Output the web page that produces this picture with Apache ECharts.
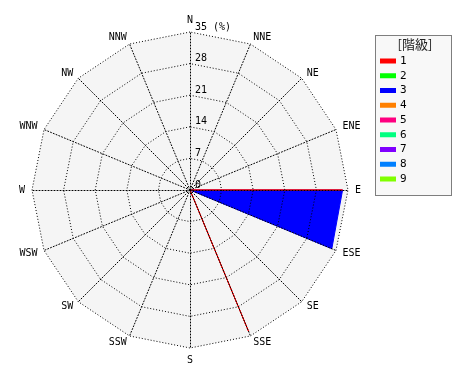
<!DOCTYPE html>
<html><head><meta charset="utf-8">
<script src="https://cdn.jsdelivr.net/npm/echarts@6/dist/echarts.min.js"></script>
<style>html,body{margin:0;padding:0;background:#fff}#c{width:470px;height:380px}</style>
</head><body><div id="c"></div>
<script>
const directions = ['N','NNE','NE','ENE','E','ESE','SE','SSE','S','SSW','SW','WSW','W','WNW','NW','NNW'];
const classNames = ['1','2','3','4','5','6','7','8','9'];
const classColors = ['#ff0000','#00ff00','#0000ff','#ff8000','#ff0080','#00ff80','#8000ff','#0080ff','#80ff00'];
// cumulative frequency (%) per direction, in direction order
const class1 = [0,0,0,0,33.8,0,0,34,0,0,0,0,0,0,0,0];
const class2 = [0,0,0,0,0,0,0,0,0,0,0,0,0,0,0,0];
const class3 = [0,0,0,0,33.8,34,0,0,0,0,0,0,0,0,0,0];
const class4 = [0,0,0,0,0,0,0,0,0,0,0,0,0,0,0,0];
const class5 = [0,0,0,0,0,0,0,0,0,0,0,0,0,0,0,0];
const class6 = [0,0,0,0,0,0,0,0,0,0,0,0,0,0,0,0];
const class7 = [0,0,0,0,0,0,0,0,0,0,0,0,0,0,0,0];
const class8 = [0,0,0,0,0,0,0,0,0,0,0,0,0,0,0,0];
const class9 = [0,0,0,0,0,0,0,0,0,0,0,0,0,0,0,0];
const radiusTicks = [0,7,14,21,28,35];
const maxValue = 35;
const classData = [class1,class2,class3,class4,class5,class6,class7,class8,class9];

const FONT = 'DejaVu Sans Mono';
const CENTER = [190,190];
const RADIUS = 158;
// radar places indicators counter-clockwise; reorder so compass runs clockwise
const order = [0].concat(Array.from({length:15},(_,i)=>15-i));
const indicator = order.map(i => ({name: directions[i], min:0, max:maxValue}));
const reorder = arr => order.map(i => arr[i]);
const dotted = {type:[1,2], color:'#000', width:1};

const series = [];
// draw highest class first so lower classes are on top
for (let k = classData.length - 1; k >= 0; k--) {
  series.push({
    type:'radar', radarIndex:0, name:classNames[k], z:1,
    symbol:'none', color:classColors[k],
    lineStyle:{color:classColors[k], width:1},
    areaStyle:{color:classColors[k], opacity:1},
    data:[{value:reorder(classData[k]), name:classNames[k]}],
    silent:true, animation:false
  });
}

const chart = echarts.init(document.getElementById('c'));
chart.setOption({
  animation:false,
  backgroundColor:'#fff',
  radar:[
    {center:CENTER, radius:RADIUS, shape:'polygon', splitNumber:5, indicator:indicator, z:0,
     axisName:{show:false}, axisLine:{show:false}, splitLine:{show:false},
     splitArea:{show:true, areaStyle:{color:['#f5f5f5']}}},
    {center:CENTER, radius:RADIUS, shape:'polygon', splitNumber:5, indicator:indicator, z:3,
     nameGap:7,
     axisName:{color:'#000', fontFamily:FONT, fontSize:10},
     axisLine:{show:true, lineStyle:dotted},
     splitLine:{show:true, lineStyle:dotted},
     splitArea:{show:false}}
  ],
  polar:{center:CENTER, radius:RADIUS},
  angleAxis:{show:false, startAngle:90, min:0, max:360},
  radiusAxis:{min:0, max:maxValue, interval:7, z:4,
    axisLine:{show:false}, axisTick:{show:false}, splitLine:{show:false},
    axisLabel:{show:true, color:'#000', fontFamily:FONT, fontSize:10, margin:-5, align:'left', verticalAlign:'bottom',
      formatter: v => (v === maxValue ? v + ' (%)' : String(v))}},
  legend:{orient:'vertical', left:375, top:50, itemWidth:16, itemHeight:5, itemGap:2.75, icon:'rect',
    data:classNames, selectedMode:false,
    textStyle:{fontFamily:FONT, fontSize:11, lineHeight:12, color:'#000', padding:[0,0,0,-1]}},
  graphic:[
    {type:'rect', shape:{x:375.5, y:35.5, width:76, height:160}, z:-1,
     style:{fill:'#f8f8f8', stroke:'#000', lineWidth:1, lineDash:[1,1]}},
    {type:'text', x:415, y:44, style:{text:'[階級]', font:'13px "Noto Sans CJK JP"', fill:'#222', align:'center', verticalAlign:'middle'}}
  ],
  series:series
});
</script></body></html>
